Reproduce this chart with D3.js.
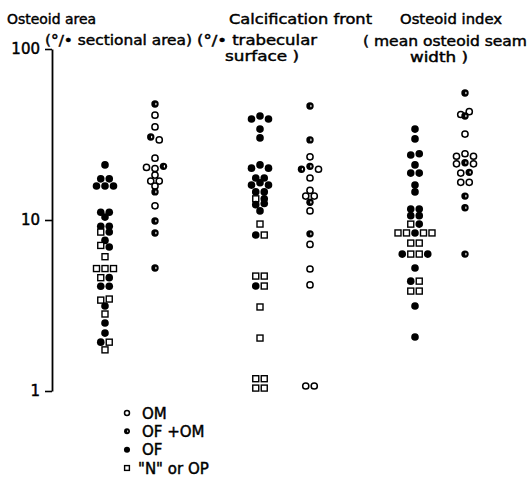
<!DOCTYPE html>
<html><head><meta charset="utf-8">
<script src="https://cdn.jsdelivr.net/npm/d3@7"></script>
<style>body{margin:0;background:#fff}svg{display:block}</style>
</head><body>
<svg id="chart" width="529" height="477"></svg>
<script>
// ---- data ----
const groups = ["Osteoid area", "Calcification front", "Osteoid index"];
const subColumns = ["A", "B"];
const tickValues = [1, 10, 100];
const legendTypes = ["OM", "OFOM", "OF", "N"];
const legendLabels = ["OM", "OF +OM", "OF", "\"N\" or OP"];

// [value, type]  types: OM open circle, OFOM half-filled, OF filled, N square
const osteoidAreaA = [
  [21,"OF"],[17.4,"OF"],[17.4,"OF"],[15.8,"OF"],[15.8,"OF"],[15.8,"OF"],
  [11.1,"OF"],[11.1,"OF"],[10.4,"OF"],[9.2,"OF"],[9.2,"OF"],[8.5,"N"],[8.5,"OF"],
  [7.6,"OF"],[7.1,"N"],[6.95,"OF"],[6.1,"N"],[5.2,"N"],[5.2,"N"],[5.2,"N"],
  [4.6,"N"],[4.6,"OF"],[4.1,"OF"],[4.1,"OF"],[3.4,"N"],[3.45,"N"],[3.14,"OF"],
  [2.82,"N"],[2.5,"OF"],[2.18,"OF"],[1.93,"OF"],[1.93,"N"],[1.74,"N"]
];
const osteoidAreaB = [
  [47.7,"OFOM"],[41,"OM"],[35,"OM"],[30.6,"OFOM"],[29.4,"OM"],[23,"OM"],
  [20.3,"OM"],[20.0,"OM"],[20.6,"OFOM"],[18.3,"OM"],[16.9,"OM"],[16.9,"OM"],
  [15.8,"OM"],[14.6,"OFOM"],[12.1,"OM"],[9.86,"OFOM"],[8.4,"OFOM"],[5.24,"OFOM"]
];
const calcFrontA = [
  [39,"OF"],[40.6,"OF"],[39,"OF"],[34,"OF"],[30.2,"OF"],
  [20.1,"OF"],[21,"OF"],[20.1,"OF"],[17.6,"OF"],[17.6,"OF"],
  [16,"OF"],[16.5,"OF"],[16,"OF"],[14.6,"OF"],[14.6,"OF"],
  [13.3,"N"],[13.3,"OF"],[12.3,"OF"],[12.5,"OF"],[11.3,"OF"],
  [9.47,"N"],[8.17,"OF"],[8.17,"N"],[4.7,"N"],[4.7,"N"],[4.11,"OF"],[4.11,"N"],
  [3.1,"N"],[2.04,"N"],[1.18,"N"],[1.18,"N"],[1.04,"N"],[1.04,"N"]
];
const calcFrontB = [
  [46.4,"OFOM"],[29.4,"OFOM"],[23.4,"OM"],[19.8,"OFOM"],[20.6,"OFOM"],[19.8,"OM"],
  [17.6,"OM"],[14.9,"OM"],[13.8,"OM"],[13.8,"OM"],[12.7,"OFOM"],[11.3,"OM"],
  [8.3,"OFOM"],[7.2,"OM"],[5.17,"OM"],[4.17,"OM"],[1.07,"OM"],[1.07,"OM"]
];
const osteoidIndexA = [
  [34,"OF"],[29.8,"OF"],[24,"OF"],[24.4,"OF"],[21,"OF"],[18.8,"OF"],[18.8,"OF"],
  [16,"OF"],[14.6,"OF"],[11.6,"OF"],[11.6,"OF"],[10.6,"OF"],[10.6,"OF"],
  [9.46,"N"],[9.46,"OF"],[8.4,"N"],[8.4,"N"],[8.4,"OF"],[8.4,"N"],[8.4,"N"],
  [7.33,"N"],[7.33,"N"],[6.32,"OF"],[6.32,"N"],[6.32,"N"],[6.32,"OF"],
  [5.24,"OF"],[4.39,"OF"],[4.39,"N"],[3.84,"N"],[3.84,"N"],[3.14,"OF"],[2.07,"OF"]
];
const osteoidIndexB = [
  [55.3,"OFOM"],[41.4,"OM"],[43,"OM"],[40.6,"OFOM"],[31.8,"OM"],
  [23.6,"OM"],[24.4,"OM"],[23.6,"OM"],[21.3,"OM"],[21.6,"OFOM"],[21.3,"OM"],
  [18.8,"OM"],[19,"OFOM"],[16.6,"OM"],[16.6,"OM"],[13.8,"OFOM"],[11.8,"OFOM"],[6.32,"OFOM"]
];
const columns = [
  {group: groups[0], sub: "A", data: osteoidAreaA},
  {group: groups[0], sub: "B", data: osteoidAreaB},
  {group: groups[1], sub: "A", data: calcFrontA},
  {group: groups[1], sub: "B", data: calcFrontB},
  {group: groups[2], sub: "A", data: osteoidIndexA},
  {group: groups[2], sub: "B", data: osteoidIndexB}
];
const headers = [
  ["Osteoid area", "(°/• sectional area)"],
  ["Calcification front", "(°/• trabecular", "surface )"],
  ["Osteoid index", "( mean osteoid seam", "width )"]
];

// ---- layout ----
const svg = d3.select("#chart");
const FONT = "'DejaVu Sans', sans-serif";
const y = d3.scaleLog().domain([1, 100]).range([391, 49]);
const xGroup = d3.scalePoint().domain(groups).range([130, 440]);
const xSub = d3.scalePoint().domain(subColumns).range([-25, 25]);

function heavy(sel, size) {
  return sel.style("font-family", FONT).style("font-size", size + "px")
    .attr("fill", "#000").attr("stroke", "#000").attr("stroke-width", 0.45);
}

// header text placement [x0, x1, baseline]
const headerBoxes = [
  [[7, 96, 24], [45, 192, 45]],
  [[229, 372, 24], [197, 317, 45], [225, 299, 61]],
  [[400, 502, 24], [363, 527, 46], [410, 468, 62]]
];
headers.forEach((lines, gi) => {
  lines.forEach((txt, li) => {
    const b = headerBoxes[gi][li];
    heavy(svg.append("text").attr("x", b[0]).attr("y", b[2])
      .attr("textLength", b[1] - b[0]).attr("lengthAdjust", "spacingAndGlyphs"), 14)
      .text(txt);
  });
});

// axis
const axis = svg.append("g").attr("transform", "translate(52,0)")
  .call(d3.axisLeft(y).tickValues(tickValues).tickFormat(d3.format("d"))
    .tickSize(7).tickSizeOuter(0).tickPadding(5));
axis.select(".domain").attr("stroke", "#000").attr("stroke-width", 1.8);
axis.selectAll(".tick line").attr("stroke", "#000").attr("stroke-width", 1.6);
heavy(axis.selectAll(".tick text"), 15);

// marker drawing
function drawMarker(g, type, cx, cy, s) {
  if (type === "OF") {
    g.append("circle").attr("cx", cx).attr("cy", cy).attr("r", 3.8 * s).attr("fill", "#000");
  } else if (type === "OM") {
    g.append("circle").attr("cx", cx).attr("cy", cy).attr("r", 3.1 * s)
      .attr("fill", "#fff").attr("stroke", "#000").attr("stroke-width", 1.5);
  } else if (type === "OFOM") {
    g.append("circle").attr("cx", cx).attr("cy", cy).attr("r", 3.7 * s).attr("fill", "#000");
    g.append("ellipse").attr("cx", cx + 0.9 * s).attr("cy", cy).attr("rx", 0.6 * s).attr("ry", 1.3 * s).attr("fill", "#fff");
  } else {
    const h = 3 * s;
    g.append("rect").attr("x", cx - h).attr("y", cy - h).attr("width", 2 * h).attr("height", 2 * h)
      .attr("fill", "#fff").attr("stroke", "#000").attr("stroke-width", 1.4);
  }
}

// points: group into rows of nearly equal height and centre each row
const ROW_GAP = 4, STEP = 8.5;
const marks = svg.append("g");
columns.forEach(col => {
  const cx = xGroup(col.group) + xSub(col.sub);
  const pts = col.data.map((d, i) => ({v: d[0], t: d[1], i, y: y(d[0])}));
  const sorted = pts.slice().sort((a, b) => a.y - b.y || a.i - b.i);
  const rows = [];
  let cur = null;
  sorted.forEach(p => {
    if (!cur || p.y - cur.y0 > ROW_GAP) { cur = {y0: p.y, m: []}; rows.push(cur); }
    cur.m.push(p);
  });
  rows.forEach(r => {
    r.m.sort((a, b) => a.i - b.i);
    const n = r.m.length;
    r.m.forEach((p, k) => { p.x = cx + (k - (n - 1) / 2) * STEP; });
  });
  pts.forEach(p => drawMarker(marks, p.t, p.x, p.y, 1));
});

// legend
const legendY = d3.scalePoint().domain(legendTypes).range([413, 468]);
const legend = svg.append("g");
legendTypes.forEach((t, k) => {
  const ly = legendY(t);
  drawMarker(legend, t, 127, ly, 0.8);
  const lx = t === "N" ? 138 : 142;
  heavy(legend.append("text").attr("x", lx).attr("y", ly + 5.5), 15)
    .text(legendLabels[k]);
});
</script>
</body></html>
